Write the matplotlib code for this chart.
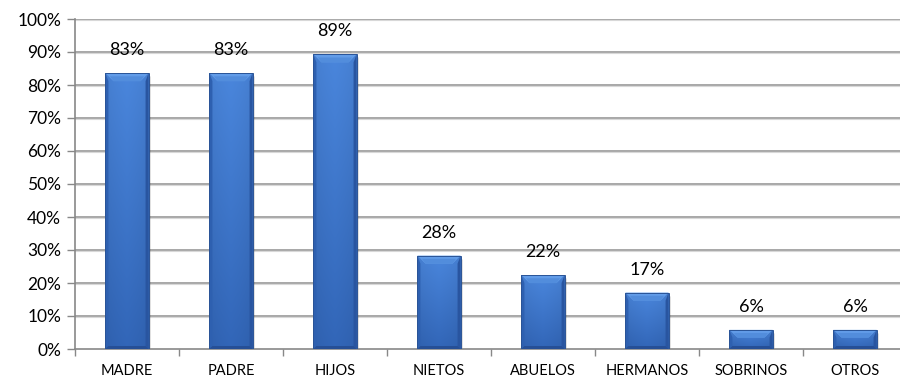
import matplotlib
matplotlib.use("Agg")
import matplotlib.pyplot as plt
import numpy as np
from matplotlib.patches import Polygon, Rectangle

categories = ["MADRE", "PADRE", "HIJOS", "NIETOS", "ABUELOS", "HERMANOS", "SOBRINOS", "OTROS"]
values = [83.6, 83.6, 89.3, 28.3, 22.4, 17.1, 5.8, 5.8]
labels = ["83%", "83%", "89%", "28%", "22%", "17%", "6%", "6%"]
yticks = [0, 10, 20, 30, 40, 50, 60, 70, 80, 90, 100]

plt.rcParams['font.family'] = ['Lato', 'DejaVu Sans']

W, H = 900, 379
fig = plt.figure(figsize=(W / 100, H / 100), dpi=100)
ax = fig.add_axes([75 / W, 30 / H, 832 / W, 330 / H])

n = len(categories)
x = np.arange(n)
bw = 0.415
ax.set_xlim(-0.5, n - 0.5)
ax.set_ylim(0, 100)

# gridlines
for t in yticks[1:]:
    ax.axhline(t, color='#a0a0a0', lw=1.3, zorder=0)
    ax.axhline(t - 0.4, color='#d8d8d8', lw=0.8, zorder=0)

# pixel -> data scales
px_x = n / 832.0
px_y = 100 / 330.0

hx = np.linspace(0, 1, 48)
hprof = 1 - np.abs(hx - 0.5) * 2
vy = np.linspace(0, 1, 64)  # 0 bottom, 1 top
c_top = np.array([0x4a, 0x86, 0xdc]) / 255
c_bot = np.array([0x32, 0x66, 0xb8]) / 255
base = c_bot[None, :] + (c_top - c_bot)[None, :] * vy[:, None]
img = base[:, None, :] * (0.92 + 0.08 * hprof[None, :, None] ** 0.5)
img = np.clip(img[::-1], 0, 1)

for xi, v in zip(x, values):
    l, r = xi - bw / 2, xi + bw / 2
    # shadow
    for k, a in [(4, 0.05), (3, 0.07), (2, 0.09)]:
        ax.add_patch(Rectangle((l + k * px_x * 0.7, -k * px_y), bw, v, color='k', alpha=a, lw=0, zorder=1))
    rect = Rectangle((l, 0), bw, v, facecolor=c_bot, edgecolor='none', zorder=2)
    ax.add_patch(rect)
    im = ax.imshow(img, extent=(l, r, 0, v), aspect='auto', zorder=3, interpolation='bilinear')
    im.set_clip_path(rect)
    tb = min(8 * px_y, v / 2.5)
    tx = 8 * px_x
    sx = 3 * px_x
    # side bevels (thin, dark)
    ax.add_patch(Polygon([(l, v), (l + sx, v - tb), (l + sx, 3 * px_y), (l, 0)],
                         closed=True, facecolor='#2e60b0', edgecolor='none', zorder=4))
    ax.add_patch(Polygon([(r, v), (r - sx, v - tb), (r - sx, 3 * px_y), (r, 0)],
                         closed=True, facecolor='#2955a0', edgecolor='none', zorder=4))
    # bottom bevel
    ax.add_patch(Polygon([(l, 0), (r, 0), (r - sx, 3 * px_y), (l + sx, 3 * px_y)],
                         closed=True, facecolor='#264f96', edgecolor='none', zorder=4))
    # top bevel (light)
    ax.add_patch(Polygon([(l, v), (r, v), (r - tx, v - tb), (l + tx, v - tb)],
                         closed=True, facecolor='#629ce8', edgecolor='none', zorder=4))
    ax.add_patch(Polygon([(l + 1.5 * sx, v - 0.4 * tb), (r - 1.5 * sx, v - 0.4 * tb), (r - tx, v - tb), (l + tx, v - tb)],
                         closed=True, facecolor='#528ddc', edgecolor='none', zorder=4))
    ax.add_patch(Rectangle((l, 0), bw, v, facecolor='none', edgecolor='#2a5497', lw=0.7, zorder=5))

for xi, v, lab in zip(x, values, labels):
    ax.text(xi, v + 4.5, lab, ha='center', va='bottom', fontsize=13, color='black')

ax.set_yticks(yticks)
ax.set_yticklabels([f"{t}%" for t in yticks], fontsize=12.5)
ax.set_xticks(x)
ax.set_xticklabels(categories, fontsize=10.5)
ax.tick_params(axis='x', length=0, pad=11)
ax.set_xticks(np.arange(n + 1) - 0.5, minor=True)
ax.tick_params(axis='x', which='minor', length=5, color='#888888', width=1)
ax.tick_params(axis='y', length=6, color='#888888', width=1, pad=4)

for s in ['top', 'right']:
    ax.spines[s].set_visible(False)
for s in ['left', 'bottom']:
    ax.spines[s].set_color('#888888')
    ax.spines[s].set_linewidth(1.2)
ax.set_facecolor('none')

fig.savefig("out.png", dpi=100)
